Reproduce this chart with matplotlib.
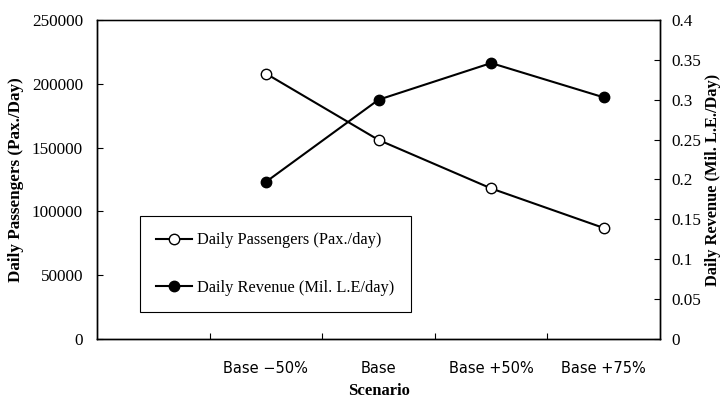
import numpy as np
import matplotlib
matplotlib.use("Agg")
import matplotlib.pyplot as plt

# data
scenarios = ["", "Base \u221250%", "Base", "Base +50%", "Base +75%"]
passengers = [None, 208000, 156000, 118000, 87000]   # Pax./day
revenue = [None, 0.197, 0.300, 0.346, 0.303]         # Mil. L.E/day

serif = "Liberation Serif"

fig = plt.figure(figsize=(7.25, 3.99), dpi=100)
ax = fig.add_axes([0.1338, 0.1504, 0.7766, 0.7995])
ax2 = ax.twinx()

x = np.arange(len(scenarios))
xp = x[1:]
p1, = ax.plot(xp, passengers[1:], color="black", lw=1.5, marker="o", ms=7.5,
              mfc="white", mec="black", mew=1.0, zorder=3)
p2, = ax2.plot(xp, revenue[1:], color="black", lw=1.5, marker="o", ms=7.5,
               mfc="black", mec="black", zorder=3)

ax.set_xlim(-0.5, len(scenarios) - 0.5)
ax.set_ylim(0, 250000)
ax2.set_ylim(0, 0.4)

ax.set_yticks(np.arange(0, 250001, 50000))
ax2.set_yticks(np.arange(0, 0.401, 0.05))
ax2.set_yticklabels(["0", "0.05", "0.1", "0.15", "0.2", "0.25", "0.3", "0.35", "0.4"])

# category boundaries get tick marks, labels sit in the middle
ax.set_xticks(x[:-1] + 0.5)
ax.set_xticklabels([])
ax.set_xticks(x, minor=True)
ax.set_xticklabels(scenarios, minor=True, fontsize=10.5, family="DejaVu Sans")
ax.tick_params(axis="x", which="minor", length=0, pad=16)
ax.tick_params(axis="x", which="major", direction="in", length=4)

ax.tick_params(axis="y", direction="in", length=4, labelsize=12.3, pad=10)
ax2.tick_params(axis="y", direction="in", length=4, labelsize=12.3, pad=8)
for lab in ax.get_yticklabels() + ax2.get_yticklabels():
    lab.set_family(serif)

for a in (ax, ax2):
    for s in a.spines.values():
        s.set_linewidth(1.0)
ax.spines["top"].set_color("#888888")

ax.set_xlabel("Scenario", family=serif, fontweight="bold", fontsize=12, labelpad=5)
ax.set_ylabel("Daily Passengers (Pax./Day)", family=serif, fontweight="bold",
              fontsize=12.3, labelpad=6)
ax2.set_ylabel("Daily Revenue (Mil. L.E./Day)", family=serif, fontweight="bold",
               fontsize=11.8, labelpad=3)

leg = ax.legend([p1, p2], ["Daily Passengers (Pax./day)", "Daily Revenue (Mil. L.E/day)"],
                loc="upper left", bbox_to_anchor=(0.0764, 0.3856), fancybox=False,
                edgecolor="black", framealpha=1, labelspacing=1.9, handlelength=2.2,
                borderpad=1.0, handletextpad=0.3, borderaxespad=0,
                prop={"family": serif, "size": 11.8})
leg.get_frame().set_linewidth(0.8)
leg.set_zorder(5)

fig.savefig("out.png", dpi=100)
